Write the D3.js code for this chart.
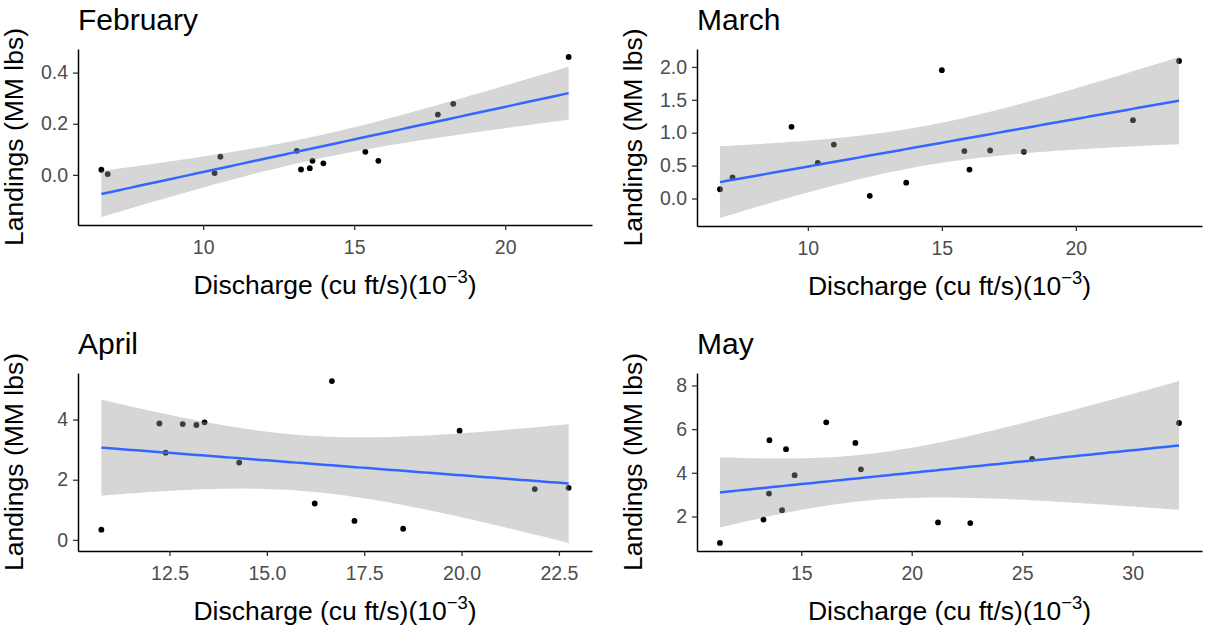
<!DOCTYPE html>
<html>
<head>
<meta charset="utf-8">
<script src="https://cdn.jsdelivr.net/npm/d3@7"></script>
<style>
  body { margin: 0; background: #fff; }
  svg text { font-family: "Liberation Sans", Arial, sans-serif; }
</style>
</head>
<body>
<svg id="chart" width="1225" height="632"></svg>
<script>
// values (discharge in 10^3 cu ft/s, landings in MM lbs)
const febX = [6.63, 6.84, 10.38, 10.57, 13.10, 13.24, 13.53, 13.62, 13.98, 15.37, 15.80, 17.77, 18.28, 22.10];
const febY = [0.020, 0.003, 0.007, 0.071, 0.094, 0.021, 0.026, 0.055, 0.045, 0.090, 0.055, 0.236, 0.278, 0.461];

const marX = [6.72, 7.19, 9.39, 10.37, 10.97, 12.31, 13.67, 15.00, 15.84, 16.03, 16.80, 18.06, 22.13, 23.85];
const marY = [0.14, 0.32, 1.09, 0.54, 0.82, 0.04, 0.24, 1.95, 0.72, 0.44, 0.73, 0.71, 1.19, 2.09];

const aprX = [10.75, 12.24, 12.40, 12.84, 13.19, 13.40, 14.29, 16.23, 16.67, 17.25, 18.50, 19.95, 21.88, 22.75];
const aprY = [0.34, 3.87, 2.90, 3.85, 3.82, 3.91, 2.57, 1.21, 5.28, 0.63, 0.37, 3.63, 1.69, 1.73];

const mayX = [11.32, 13.29, 13.54, 13.56, 14.13, 14.31, 14.70, 16.13, 17.45, 17.70, 21.19, 22.65, 25.45, 32.10];
const mayY = [0.79, 1.86, 3.05, 5.49, 2.29, 5.08, 3.89, 6.31, 5.37, 4.16, 1.73, 1.70, 4.64, 6.28];

const titles = ['February', 'March', 'April', 'May'];
const xTicks = [[10, 15, 20], [10, 15, 20], [12.5, 15, 17.5, 20, 22.5], [15, 20, 25, 30]];
const yTicks = [[0, 0.2, 0.4], [0, 0.5, 1, 1.5, 2], [0, 2, 4], [2, 4, 6, 8]];
const xFormats = ['d', 'd', '.1f', 'd'];
const yFormats = ['.1f', '.1f', 'd', 'd'];

const yLabel = 'Landings (MM lbs)';

// t quantile (0.975) for n - 2 = 12 degrees of freedom
const T975 = {12: 2.1788};

const svg = d3.select('#chart');

// panel boxes: left, top, right, bottom of the plotting area
const boxes = [
  [78, 49, 592, 225],
  [697, 49, 1202, 226],
  [78, 373, 592, 551],
  [697, 373, 1202, 551]
];

function fitLm(xs, ys) {
  const n = xs.length,
        mx = d3.mean(xs),
        my = d3.mean(ys);
  let sxx = 0, sxy = 0;
  xs.forEach((x, i) => { sxx += (x - mx) ** 2; sxy += (x - mx) * (ys[i] - my); });
  const b = sxy / sxx, a = my - b * mx;
  const rss = d3.sum(xs, (x, i) => (ys[i] - a - b * x) ** 2);
  const s = Math.sqrt(rss / (n - 2));
  const t = T975[n - 2];
  const lo = d3.min(xs), hi = d3.max(xs);
  return d3.range(80).map(i => {
    const x = lo + (hi - lo) * i / 79,
          fit = a + b * x,
          se = s * Math.sqrt(1 / n + (x - mx) ** 2 / sxx);
    return {x, fit, lower: fit - t * se, upper: fit + t * se};
  });
}

function expand(ext) {
  const pad = (ext[1] - ext[0]) * 0.05;
  return [ext[0] - pad, ext[1] + pad];
}

function drawPanel(idx, xs, ys) {
  const [l, t, r, b] = boxes[idx];
  const smooth = fitLm(xs, ys);

  const x = d3.scaleLinear().domain(expand(d3.extent(xs))).range([l, r]);
  const yExt = d3.extent([...ys, ...smooth.map(d => d.lower), ...smooth.map(d => d.upper)]);
  const y = d3.scaleLinear().domain(expand(yExt)).range([b, t]);

  const g = svg.append('g');

  // points first, ribbon goes on top like ggplot does
  g.selectAll('circle')
    .data(xs.map((v, i) => [v, ys[i]]))
    .join('circle')
    .attr('cx', d => x(d[0]))
    .attr('cy', d => y(d[1]))
    .attr('r', 2.9)
    .attr('fill', '#000');

  g.append('path')
    .datum(smooth)
    .attr('d', d3.area().x(d => x(d.x)).y0(d => y(d.lower)).y1(d => y(d.upper)))
    .attr('fill', '#999999')
    .attr('fill-opacity', 0.4);

  g.append('path')
    .datum(smooth)
    .attr('d', d3.line().x(d => x(d.x)).y(d => y(d.fit)))
    .attr('fill', 'none')
    .attr('stroke', '#3366FF')
    .attr('stroke-width', 2.5);

  const xAxis = g.append('g')
    .attr('transform', `translate(0,${b})`)
    .call(d3.axisBottom(x).tickValues(xTicks[idx]).tickFormat(d3.format(xFormats[idx]))
      .tickSize(5).tickSizeOuter(0).tickPadding(5));
  const yAxis = g.append('g')
    .attr('transform', `translate(${l},0)`)
    .call(d3.axisLeft(y).tickValues(yTicks[idx]).tickFormat(d3.format(yFormats[idx]))
      .tickSize(5).tickSizeOuter(0).tickPadding(5));

  [xAxis, yAxis].forEach(ax => {
    ax.select('.domain').attr('stroke', '#000').attr('stroke-width', 1.5);
    ax.selectAll('.tick line').attr('stroke', '#333').attr('stroke-width', 1.3);
    ax.selectAll('.tick text').attr('fill', '#4D4D4D').attr('font-size', 19.5);
  });
  xAxis.selectAll('.tick text').attr('dy', '0.95em');

  g.append('text')
    .attr('x', l)
    .attr('y', t - 19)
    .attr('font-size', 30)
    .attr('fill', '#000')
    .text(titles[idx]);

  const xl = g.append('text')
    .attr('x', (l + r) / 2)
    .attr('y', b + 69)
    .attr('text-anchor', 'middle')
    .attr('font-size', 26.5)
    .attr('fill', '#000');
  xl.append('tspan').text('Discharge (cu ft/s)(10');
  xl.append('tspan').attr('dy', -11).attr('font-size', 18.5).text('\u22123');
  xl.append('tspan').attr('dy', 11).text(')');

  g.append('text')
    .attr('transform', `translate(${l - 55},${(t + b) / 2}) rotate(-90)`)
    .attr('text-anchor', 'middle')
    .attr('font-size', 26.5)
    .attr('fill', '#000')
    .text(yLabel);
}

drawPanel(0, febX, febY);
drawPanel(1, marX, marY);
drawPanel(2, aprX, aprY);
drawPanel(3, mayX, mayY);
</script>
</body>
</html>
